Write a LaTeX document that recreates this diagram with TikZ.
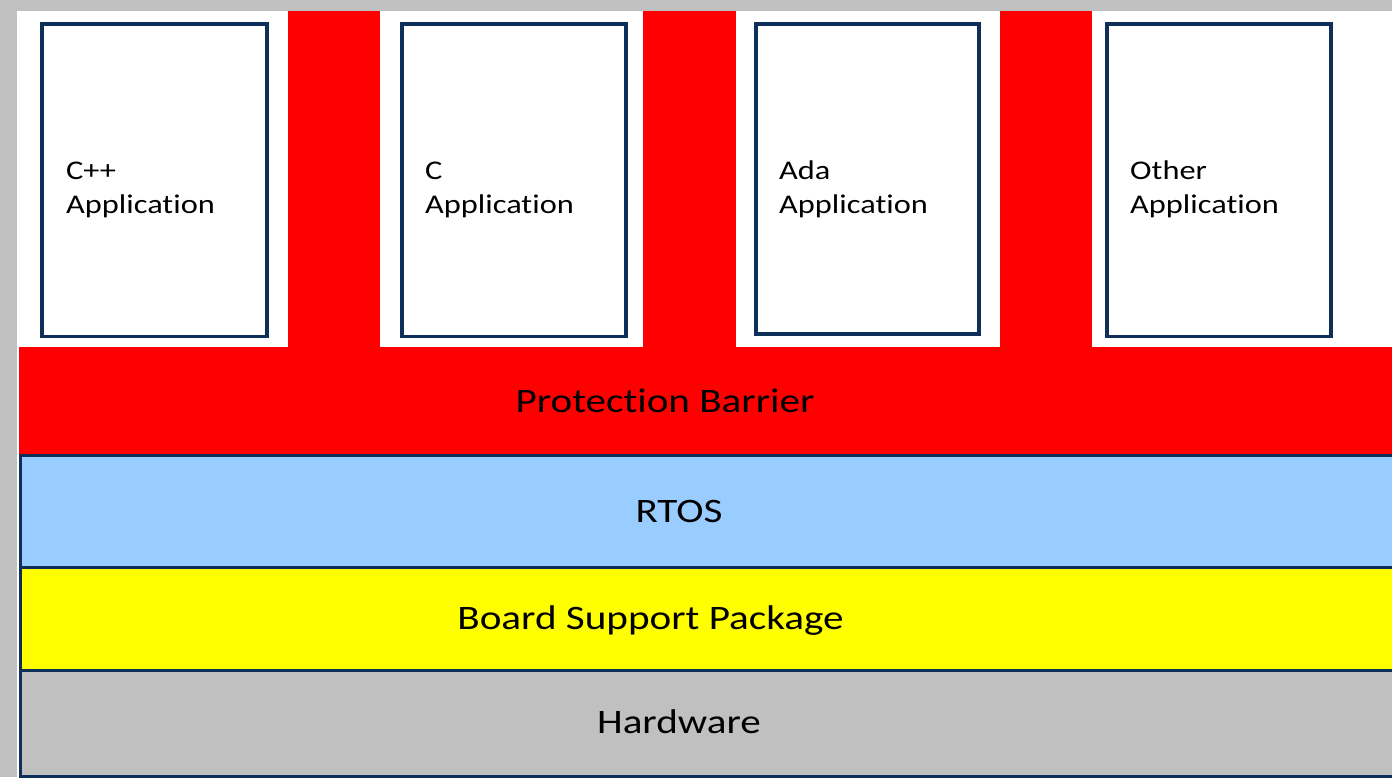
\documentclass[tikz,border=0pt]{standalone}
\usepackage{fontspec}
\newfontfamily\stackfont[FakeStretch=1.2,Ligatures={NoCommon}]{Carlito}
\definecolor{navy}{RGB}{14,47,88}
\definecolor{barrier}{RGB}{255,0,0}
\definecolor{rtosblue}{RGB}{153,204,255}
\definecolor{bspyellow}{RGB}{255,255,0}
\definecolor{hwgray}{RGB}{192,192,192}
\definecolor{frame}{RGB}{192,192,192}
\begin{document}
\begin{tikzpicture}[x=1pt,y=-1pt,
  appbox/.style={draw=navy,line width=3.2pt,fill=white},
  layer/.style={draw=navy,line width=3pt},
  apptext/.style={anchor=base west,inner sep=0pt,font=\stackfont\fontsize{27}{34}\selectfont,align=left},
  layertext/.style={anchor=base,inner sep=0pt,font=\stackfont\fontsize{34.3}{40}\selectfont}]
\useasboundingbox (0,0) rectangle (1392,777);
\clip (0,0) rectangle (1392,777);
% page frame and white sheet
\fill[frame] (0,0) rectangle (1392,777);
\fill[white] (17,11) rectangle (1400,790);
% protection barrier: base band and the walls between partitions
\fill[barrier] (19,347) rectangle (1400,454);
\fill[barrier] (287.5,11) rectangle (380,348);
\fill[barrier] (643,11) rectangle (736,348);
\fill[barrier] (1000,11) rectangle (1092,348);
% application partitions
\draw[appbox] (42,24) rectangle (267,336.5);
\draw[appbox] (402,24) rectangle (626,336.5);
\draw[appbox] (756,24) rectangle (979,334);
\draw[appbox] (1107,24) rectangle (1331,336.5);
% software / hardware layers
\draw[layer,fill=rtosblue] (20,455) rectangle (1400,567);
\draw[layer,fill=bspyellow] (20,567) rectangle (1400,670.5);
\draw[layer,fill=hwgray] (20,670.5) rectangle (1400,776);
% labels (base anchor sits on the last line)
\node[apptext] (cpp) at (66,213) {C++\\Application};
\node[apptext] (c) at (425,213) {C\\Application};
\node[apptext] (ada) at (779,213) {Ada\\Application};
\node[apptext] (other) at (1130,213) {Other\\Application};
\node[layertext] (pb) at (665,412.5) {Protection Barrier};
\node[layertext] (rtos) at (679,522) {RTOS};
\node[layertext] (bsp) at (650.5,629) {Board Support Package};
\node[layertext] (hw) at (679,733) {Hardware};
\end{tikzpicture}
\end{document}
